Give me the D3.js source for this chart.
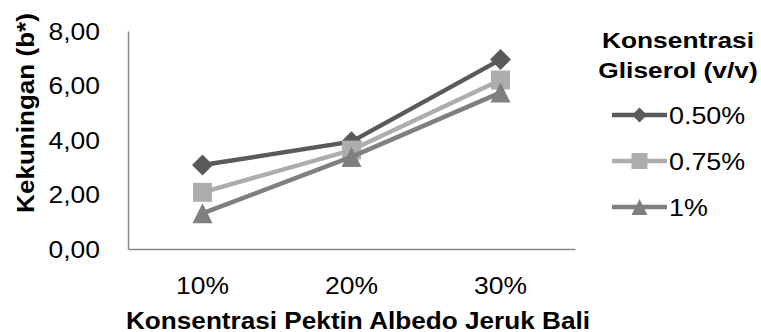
<!DOCTYPE html>
<html><head><meta charset="utf-8">
<script src="https://cdn.jsdelivr.net/npm/d3@7"></script>
<style>body{margin:0;background:#fff}svg{display:block}</style>
</head><body>
<svg id="chart" width="761" height="332"></svg>
<script>
// Kekuningan (b*) per pectin concentration, one series per glycerol level
const categories = ["10%", "20%", "30%"];
const seriesNames = ["0.50%", "0.75%", "1%"];
const values050 = [3.08, 3.94, 6.95];
const values075 = [2.08, 3.63, 6.20];
const values100 = [1.31, 3.38, 5.74];
const yTicks = [0, 2, 4, 6, 8];
const yTickLabels = ["0,00", "2,00", "4,00", "6,00", "8,00"];
const xTitle = "Konsentrasi Pektin Albedo Jeruk Bali";
const yTitle = "Kekuningan (b*)";
const legendTitle = ["Konsentrasi", "Gliserol (v/v)"];

const FONT = "'Liberation Sans', Arial, sans-serif";
const colors = ["#5a5a5a", "#adadad", "#7f7f7f"];
const shapes = ["diamond", "square", "triangle"];
const series = [values050, values075, values100].map((v, i) => ({
  name: seriesNames[i], values: v, color: colors[i], shape: shapes[i]
}));

const svg = d3.select("#chart");
const plot = { left: 128, right: 575, top: 31, bottom: 249 };

const x = d3.scalePoint().domain(categories).range([plot.left, plot.right]).padding(0.5);
const y = d3.scaleLinear().domain([0, 8]).range([plot.bottom, plot.top]);

// marker path centred on its bounding box
function markerPath(shape, s) {
  const h = s / 2;
  if (shape === "diamond") return `M0,${-h}L${h},0L0,${h}L${-h},0Z`;
  if (shape === "square") return `M${-h},${-h}H${h}V${h}H${-h}Z`;
  return `M0,${-h}L${h},${h}H${-h}Z`;
}
const markerSize = { diamond: 21, square: 19, triangle: 20 };

// text placed with a slight horizontal widening
function label(parent, px, py, txt, opt) {
  const g = parent.append("g")
    .attr("transform", `translate(${px},${py}) rotate(${opt.rotate || 0}) scale(${opt.sx || 1},1)`);
  return g.append("text")
    .attr("text-anchor", opt.anchor || "start")
    .attr("font-family", FONT)
    .attr("font-size", opt.size)
    .attr("font-weight", opt.weight || "normal")
    .attr("fill", "#000")
    .text(txt);
}

// axes
const yAxis = svg.append("g").attr("transform", `translate(${plot.left},0)`)
  .call(d3.axisLeft(y).tickValues(yTicks).tickSize(0).tickSizeOuter(0).tickFormat(() => ""));
const xAxis = svg.append("g").attr("transform", `translate(0,${plot.bottom})`)
  .call(d3.axisBottom(x).tickSize(0).tickSizeOuter(0).tickFormat(() => ""));
[yAxis, xAxis].forEach(a => a.select(".domain").attr("stroke", "#878787").attr("stroke-width", 1.5));

// tick labels
yTicks.forEach((t, i) => {
  label(svg, plot.left - 28, y(t) + 8.8, yTickLabels[i], { size: 24.5, anchor: "end", sx: 1.08 });
});
categories.forEach(c => {
  label(svg, x(c), plot.bottom + 45, c, { size: 24.5, anchor: "middle", sx: 1.08 });
});

// axis titles
label(svg, 358, 328.5, xTitle, { size: 24, weight: "bold", anchor: "middle", sx: 1.09 });
label(svg, 33.5, 113, yTitle, { size: 23.5, weight: "bold", anchor: "middle", sx: 1.11, rotate: -90 });

// series lines and markers
const line = d3.line().x((d, i) => x(categories[i])).y(d => y(d));
series.forEach(s => {
  const g = svg.append("g");
  g.append("path").attr("d", line(s.values))
    .attr("fill", "none").attr("stroke", s.color).attr("stroke-width", 4.5)
    .attr("stroke-linejoin", "round");
  g.selectAll("path.m").data(s.values).join("path").attr("class", "m")
    .attr("transform", (d, i) => `translate(${x(categories[i])},${y(d)})`)
    .attr("d", markerPath(s.shape, markerSize[s.shape]))
    .attr("fill", s.color);
});

// legend
const lg = svg.append("g");
label(lg, 678, 48, legendTitle[0], { size: 22.5, weight: "bold", anchor: "middle", sx: 1.17 });
label(lg, 678, 78, legendTitle[1], { size: 22.5, weight: "bold", anchor: "middle", sx: 1.17 });
series.forEach((s, i) => {
  const cy = 115 + i * 46;
  lg.append("line").attr("x1", 612).attr("x2", 667).attr("y1", cy).attr("y2", cy)
    .attr("stroke", s.color).attr("stroke-width", 4.5);
  lg.append("path").attr("transform", `translate(639.5,${cy})`)
    .attr("d", markerPath(s.shape, s.shape === "diamond" ? 15 : 16)).attr("fill", s.color);
  label(lg, 669, cy + 8.5, s.name, { size: 24, anchor: "start", sx: 1.12 });
});
</script>
</body></html>
